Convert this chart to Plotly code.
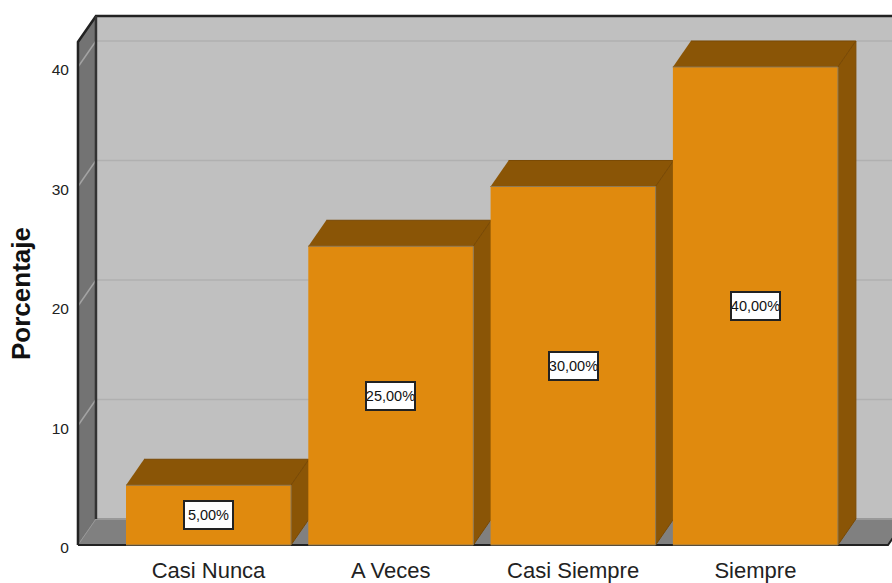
import plotly.graph_objects as go

categories = ["Casi Nunca", "A Veces", "Casi Siempre", "Siempre"]
values = [5, 25, 30, 40]
y_ticks = [0, 10, 20, 30, 40]
y_title = "Porcentaje"

W, H = 892, 583
ORANGE, DARK = "#E08A0E", "#8A5506"
BACK, SIDE, FLOOR = "#C0C0C0", "#737373", "#808080"
GRID, SIDEGRID = "#B0B0B0", "#A3A3A3"
LINE = "#222222"

# projection of the 3D depth, in axis units
DX, DY = 18 / 182.3, 26 / 11.95
HALF = 82.5 / 182.3
X0, X1 = -0.716, (888 - 208.5) / 182.3
YTOP = (545 - 42) / 11.95


def poly(xs, ys, fill, line=None, width=1):
    return go.Scatter(x=xs, y=ys, mode="lines", fill="toself" if fill else None,
                      fillcolor=fill, line=dict(color=line or fill, width=width),
                      hoverinfo="skip", showlegend=False)


def seg(xs, ys, color, width):
    return go.Scatter(x=xs, y=ys, mode="lines", line=dict(color=color, width=width),
                      hoverinfo="skip", showlegend=False)


fig = go.Figure()
# walls and floor
fig.add_trace(poly([X0 + DX, X1 + DX, X1 + DX, X0 + DX], [DY, DY, YTOP + DY, YTOP + DY], BACK))
fig.add_trace(poly([X0, X0 + DX, X0 + DX, X0], [0, DY, YTOP + DY, YTOP], SIDE))
fig.add_trace(poly([X0, X0 + DX, X1 + DX, X1], [0, DY, DY, 0], FLOOR))
# gridlines
for v in y_ticks[1:]:
    fig.add_trace(seg([X0 + DX, X1 + DX], [v + DY, v + DY], GRID, 1.5))
    fig.add_trace(seg([X0, X0 + DX], [v, v + DY], SIDEGRID, 1.5))
fig.add_trace(seg([X0 + DX, X1 + DX], [DY, DY], "#999999", 2))
fig.add_trace(seg([X0, X0 + DX], [0, DY], "#999999", 1))
# frame
fig.add_trace(seg([X0, X0, X0 + DX, X1 + DX], [0, YTOP, YTOP + DY, YTOP + DY], LINE, 2.5))
fig.add_trace(seg([X0 + DX, X0 + DX], [DY, YTOP + DY], "#333333", 2.5))
fig.add_trace(seg([X0, X1, X1 + DX], [0, 0, DY], LINE, 2))
# bars
for i, v in enumerate(values):
    l, r = i - HALF, i + HALF
    fig.add_trace(poly([l, r, r + DX, l + DX], [v, v, v + DY, v + DY], DARK, "#7A4A05"))
    fig.add_trace(poly([r, r + DX, r + DX, r], [0, DY, v + DY, v], DARK, "#7A4A05"))
    fig.add_trace(poly([l, r, r, l], [0, 0, v, v], ORANGE, "#8F7A55"))
    fig.add_annotation(x=i, y=v / 2, text=f"{v:.2f}".replace(".", ",") + "%", showarrow=False,
                       font=dict(family="Liberation Sans", size=14.5, color="#111111"),
                       bgcolor="white", bordercolor="#222222", borderwidth=2,
                       borderpad=0, width=47, height=26)

fig.add_annotation(text=y_title, xref="paper", yref="paper", x=21 / W, y=1 - 294 / H,
                   xanchor="center", yanchor="middle", textangle=-90, showarrow=False,
                   font=dict(family="Liberation Sans", size=26, color="#111111", weight="bold"))

bottom, top, left = 548, 14, 76
ypx = 11.95
xpx = 182.3
fig.update_layout(
    width=W, height=H, margin=dict(l=0, r=0, t=0, b=0, autoexpand=False), autosize=False,
    paper_bgcolor="white", plot_bgcolor="white", showlegend=False,
    xaxis=dict(domain=[left / W, 1], range=[(left - 208.5) / xpx, (W - 208.5) / xpx],
               tickmode="array", tickvals=list(range(len(categories))), ticktext=categories,
               ticks="outside", ticklen=3, tickcolor="rgba(0,0,0,0)", showgrid=False, zeroline=False,
               tickfont=dict(family="Liberation Sans", size=22, color="#222222")),
    yaxis=dict(domain=[(H - bottom) / H, (H - top) / H],
               range=[(545 - bottom) / ypx, (545 - top) / ypx],
               tickmode="array", tickvals=y_ticks, ticks="outside", ticklen=3, ticklabelshift=3,
               tickcolor="rgba(0,0,0,0)", showgrid=False, zeroline=False,
               tickfont=dict(family="Liberation Sans", size=15.5, color="#222222")),
)
fig.write_html("out.html", config={"displayModeBar": False},
               post_script="document.body.style.margin='0';document.documentElement.style.overflow='hidden';")
